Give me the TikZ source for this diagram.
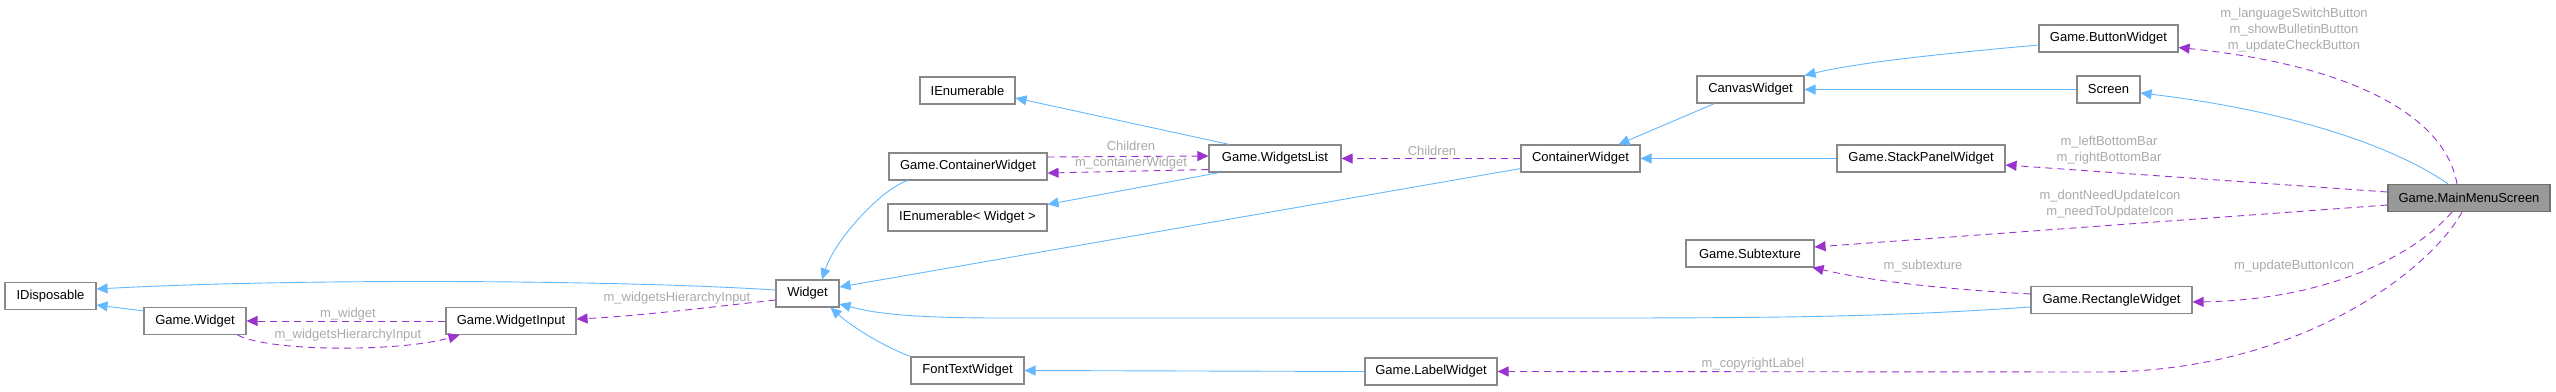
\documentclass[tikz,border=0pt]{standalone}
\usepackage{fontspec}
\setmainfont{Liberation Sans}
\usetikzlibrary{arrows.meta,calc}
\definecolor{inhblue}{HTML}{63B8FF}
\definecolor{usepurple}{HTML}{9A32CD}
\definecolor{lblgray}{HTML}{AAAAAA}
\definecolor{boxgray}{HTML}{888888}
\definecolor{mmsborder}{HTML}{707070}
\definecolor{mmsfill}{HTML}{999999}
\begin{document}
\begin{tikzpicture}[x=1pt,y=-1pt,
  cls/.style={draw=boxgray, line width=1.1pt, fill=white, minimum height=27pt, inner sep=0pt, font=\fontsize{13}{16}\selectfont, text=black},
  inh/.style={draw=inhblue, line width=0.9pt, -{Triangle[length=11pt,width=10pt]}},
  use/.style={draw=usepurple, line width=0.9pt, dash pattern=on 7pt off 5pt, -{Triangle[length=11pt,width=10pt]}},
  lbl/.style={text=lblgray, font=\fontsize{13}{16}\selectfont, align=center, inner sep=0pt}]
\useasboundingbox (0,0) rectangle (2556,391);

% classes
\node[cls, minimum width=91pt]  (idisp) at (50.5,296)   {IDisposable};
\node[cls, minimum width=102pt] (gw)    at (195,321)    {Game.Widget};
\node[cls, minimum width=130pt] (wi)    at (511,321)    {Game.WidgetInput};
\node[cls, minimum width=63pt]  (widget) at (807.5,293.5) {Widget};
\node[cls, minimum width=113pt] (ftw)   at (967.5,370.5) {FontTextWidget};
\node[cls, minimum width=159pt] (iew)   at (967.5,217.5) {IEnumerable< Widget >};
\node[cls, minimum width=158pt] (gcw)   at (968,166.5)  {Game.ContainerWidget};
\node[cls, minimum width=95pt]  (ienum) at (967.5,90.5) {IEnumerable};
\node[cls, minimum width=132pt] (wl)    at (1275,158.5) {Game.WidgetsList};
\node[cls, minimum width=119pt] (cw)    at (1580.5,158.5) {ContainerWidget};
\node[cls, minimum width=107pt] (canvas) at (1750.5,89.5) {CanvasWidget};
\node[cls, minimum width=139pt] (bw)    at (2108.5,38.5) {Game.ButtonWidget};
\node[cls, minimum width=63pt]  (screen) at (2108.5,89.5) {Screen};
\node[cls, minimum width=168pt] (spw)   at (1921,158.5) {Game.StackPanelWidget};
\node[cls, minimum width=162pt, fill=mmsfill, draw=mmsborder] (mms) at (2469,198) {Game.MainMenuScreen};
\node[cls, minimum width=128pt] (st)    at (1750,253.5) {Game.Subtexture};
\node[cls, minimum width=161pt] (rw)    at (2111.5,300) {Game.RectangleWidget};
\node[cls, minimum width=132pt] (lw)    at (1431,371.5) {Game.LabelWidget};

% inheritance
\draw[inh] ($(gw.north west)+(0,4)$) -- ($(idisp.east)+(0,9)$);
\draw[inh] ($(widget.west)+(0,-3.5)$) .. controls (620,280) and (300,278) .. ($(idisp.east)+(0,-7)$);
\draw[inh] ($(gcw.south west)+(19,0)$) .. controls (880,190) and (835,240) .. ($(widget.north)+(14.5,0)$);
\draw[inh] ($(cw.south west)+(0,-4)$) -- ($(widget.east)+(0,-6.5)$);
\draw[inh] ($(rw.west)+(0,7)$) .. controls (1900,316) and (1800,318) .. (1600,318) -- (1000,318) .. controls (900,318) and (870,312) .. ($(widget.east)+(0,10.5)$);
\draw[inh] (ftw.north west) .. controls (880,345) and (850,325) .. ($(widget.south)+(23,0)$);
\draw[inh] (lw.west) -- (ftw.east);
\draw[inh] ($(wl.north west)+(21,0)$) -- ($(ienum.east)+(0,7.5)$);
\draw[inh] ($(wl.south west)+(11,0)$) -- ($(iew.north east)+(0,1)$);
\draw[inh] ($(canvas.south west)+(18,0)$) -- ($(cw.north east)+(-22,0)$);
\draw[inh] (spw.west) -- (cw.east);
\draw[inh] ($(bw.west)+(0,6.5)$) .. controls (1950,53) and (1860,62) .. (canvas.north east);
\draw[inh] (screen.west) -- (canvas.east);
\draw[inh] ($(mms.north)+(-21,0)$) .. controls (2400,150) and (2300,112) .. ($(screen.east)+(0,3.5)$);

% usage
\draw[use] (wi.west) -- (gw.east);
\draw[use] ($(gw.south east)+(-9,0)$) .. controls (270,352) and (400,352) .. ($(wi.south west)+(14,0)$);
\draw[use] ($(widget.west)+(0,6.5)$) .. controls (720,306) and (640,316) .. ($(wi.east)+(0,-2)$);
\draw[use] ($(gcw.east)+(0,-9.5)$) -- ($(wl.west)+(0,-2.5)$);
\draw[use] ($(wl.south west)+(0,-3)$) -- ($(gcw.east)+(0,6.5)$);
\draw[use] (cw.west) -- (wl.east);
\draw[use] ($(mms.north)+(-12,0)$) .. controls (2445,115) and (2350,65) .. ($(bw.east)+(0,9)$);
\draw[use] ($(mms.west)+(0,-6)$) -- ($(spw.east)+(0,6.5)$);
\draw[use] ($(mms.west)+(0,7)$) -- ($(st.east)+(0,-6.5)$);
\draw[use] ($(rw.west)+(0,-6)$) .. controls (1960,290) and (1880,283) .. ($(st.south east)+(-2,0)$);
\draw[use] ($(mms.south)+(-17,0)$) .. controls (2410,260) and (2320,300) .. ($(rw.east)+(0,2)$);
\draw[use] ($(mms.south)+(-7,0)$) .. controls (2430,270) and (2300,372) .. (2100,372) -- (lw.east);

% labels
\node[lbl] (l1) at (348,314) {m\_widget};
\node[lbl] (l2) at (348,335) {m\_widgetsHierarchyInput};
\node[lbl] (l3) at (677,298) {m\_widgetsHierarchyInput};
\node[lbl] (l4) at (1131,146) {Children};
\node[lbl] (l5) at (1131,163) {m\_containerWidget};
\node[lbl] (l6) at (1432,151) {Children};
\node[lbl] (l7) at (2294,30) {m\_languageSwitchButton\\m\_showBulletinButton\\m\_updateCheckButton};
\node[lbl] (l8) at (2109,150) {m\_leftBottomBar\\m\_rightBottomBar};
\node[lbl] (l9) at (2110,204.5) {m\_dontNeedUpdateIcon\\m\_needToUpdateIcon};
\node[lbl] (l10) at (1923,266) {m\_subtexture};
\node[lbl] (l11) at (2294,266) {m\_updateButtonIcon};
\node[lbl] (l12) at (1753,364) {m\_copyrightLabel};
\end{tikzpicture}
\end{document}
